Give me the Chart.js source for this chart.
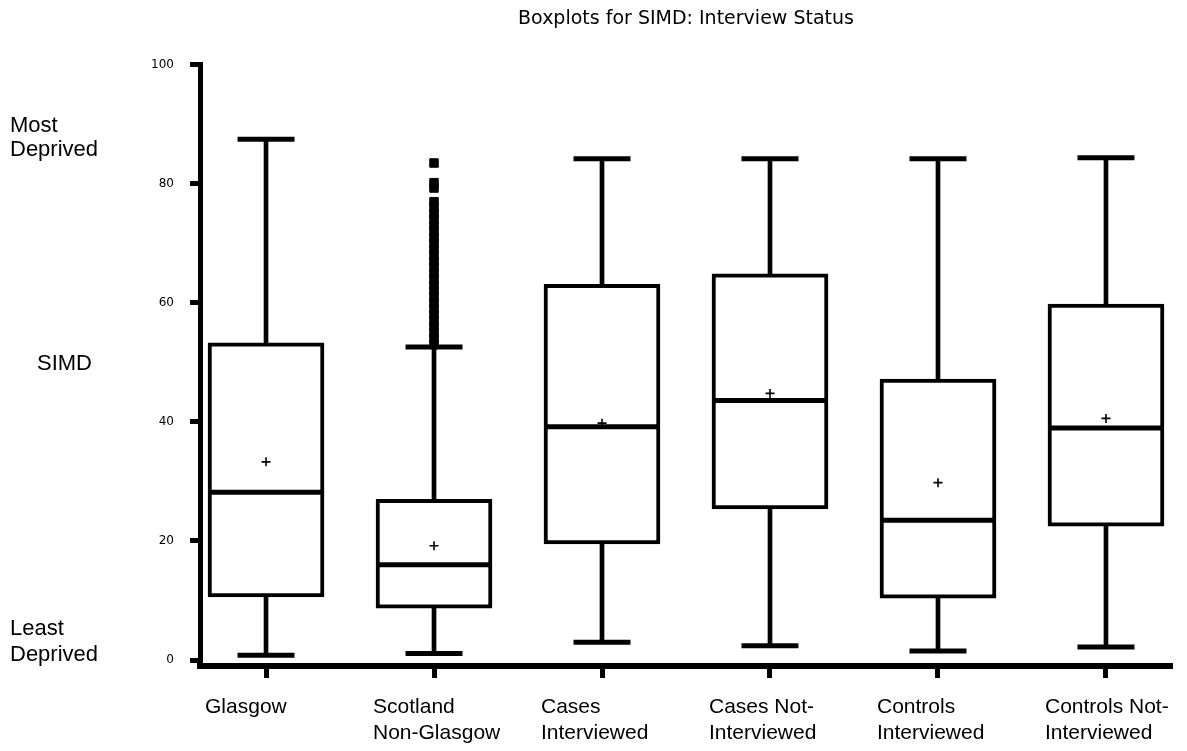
<!DOCTYPE html>
<html>
<head>
<meta charset="utf-8">
<title>Boxplots for SIMD: Interview Status</title>
<script src="https://cdn.jsdelivr.net/npm/chart.js@4.4.1/dist/chart.umd.min.js"></script>
<style>
  html, body { margin: 0; padding: 0; background: #fff; }
</style>
</head>
<body>
<canvas id="boxChart" width="1187" height="751"></canvas>
<script>
const categories = [
    ['Glasgow'],
    ['Scotland', 'Non-Glasgow'],
    ['Cases', 'Interviewed'],
    ['Cases Not-', 'Interviewed'],
    ['Controls', 'Interviewed'],
    ['Controls Not-', 'Interviewed']
];
const whiskerLow = [0.8, 1.1, 3.0, 2.4, 1.5, 2.2];
const q1 = [10.6, 8.7, 19.5, 25.4, 10.4, 22.5];
const medians = [28.2, 16.0, 39.2, 43.6, 23.5, 39.0];
const q3 = [53.3, 27.0, 63.1, 64.9, 47.2, 59.8];
const whiskerHigh = [87.5, 52.6, 84.2, 84.2, 84.2, 84.4];
const means = [33.3, 19.2, 39.8, 44.8, 29.8, 40.6];
// outliers only show up for Scotland Non-Glasgow (category 1)
const outlierCategory = 1;
const outliers = [53, 54, 55, 56, 57, 58, 59, 60, 61, 62, 63, 64, 65, 66, 67, 68, 69, 70,
    71, 72, 73, 74, 75, 76, 77, 79.3, 80.2, 83.5];
const yTicks = [0, 20, 40, 60, 80, 100];
const sideLabels = [
    { text: 'Most', x: 10, y: 126 },
    { text: 'Deprived', x: 10, y: 150 },
    { text: 'SIMD', x: 37, y: 364 },
    { text: 'Least', x: 10, y: 629 },
    { text: 'Deprived', x: 10, y: 655 }
];

// caps on the whiskers and the median line across each box
const boxExtras = {
    id: 'boxExtras',
    afterDatasetsDraw(chart) {
        const ctx = chart.ctx;
        const xs = chart.scales.x;
        const ys = chart.scales.y;
        ctx.save();
        ctx.strokeStyle = '#000';
        ctx.lineWidth = 5;
        categories.forEach((c, i) => {
            const cx = xs.getPixelForValue(i);
            [whiskerLow[i], whiskerHigh[i]].forEach(v => {
                const py = ys.getPixelForValue(v);
                ctx.beginPath();
                ctx.moveTo(cx - 28.5, py);
                ctx.lineTo(cx + 28.5, py);
                ctx.stroke();
            });
            const my = ys.getPixelForValue(medians[i]);
            ctx.beginPath();
            ctx.moveTo(cx - 58, my);
            ctx.lineTo(cx + 58, my);
            ctx.stroke();
        });
        ctx.restore();
    },
    afterDraw(chart) {
        const ctx = chart.ctx;
        ctx.save();
        ctx.fillStyle = '#000';
        ctx.font = '22px "Liberation Sans", Arial, sans-serif';
        ctx.textAlign = 'left';
        ctx.textBaseline = 'middle';
        sideLabels.forEach(l => ctx.fillText(l.text, l.x, l.y));
        ctx.restore();
    }
};

function drawChart() {
    const ctx = document.getElementById('boxChart').getContext('2d');
    new Chart(ctx, {
        type: 'bar',
        data: {
            datasets: [
                {
                    label: 'whiskers',
                    data: categories.map((c, i) => ({ x: i, y: [whiskerLow[i], whiskerHigh[i]] })),
                    backgroundColor: '#000',
                    barThickness: 4,
                    grouped: false,
                    order: 3
                },
                {
                    label: 'boxes',
                    data: categories.map((c, i) => ({ x: i, y: [q1[i], q3[i]] })),
                    backgroundColor: '#fff',
                    borderColor: '#000',
                    borderWidth: 4,
                    borderSkipped: false,
                    barThickness: 116,
                    grouped: false,
                    order: 2
                },
                {
                    type: 'scatter',
                    label: 'mean',
                    data: categories.map((c, i) => ({ x: i, y: means[i] })),
                    pointStyle: 'cross',
                    pointRadius: 4.5,
                    borderColor: '#000',
                    borderWidth: 1.6,
                    order: 1
                },
                {
                    type: 'scatter',
                    label: 'outliers',
                    data: outliers.map(v => ({ x: outlierCategory, y: v })),
                    pointStyle: 'rect',
                    pointRadius: 6,
                    backgroundColor: '#000',
                    borderColor: '#000',
                    borderWidth: 1,
                    order: 1
                }
            ]
        },
        options: {
            responsive: false,
            animation: false,
            layout: { padding: { left: 0, right: 15, top: 8, bottom: 0 } },
            scales: {
                x: {
                    type: 'linear',
                    min: -0.393,
                    max: 5.393,
                    offset: false,
                    afterBuildTicks: s => { s.ticks = categories.map((c, i) => ({ value: i })); },
                    afterFit: s => { s.height = 85; s.paddingLeft = 0; s.paddingRight = 0; },
                    grid: { offset: false, drawOnChartArea: false, tickLength: 12, tickWidth: 5, tickColor: '#000' },
                    border: { color: '#000', width: 6 },
                    ticks: {
                        callback: (v, i) => categories[i],
                        align: 'start',
                        labelOffset: -61,
                        padding: 17,
                        autoSkip: false,
                        maxRotation: 0,
                        color: '#000',
                        font: { family: '"Liberation Sans", Arial', size: 21 }
                    }
                },
                y: {
                    min: -1,
                    max: 100,
                    afterBuildTicks: s => { s.ticks = yTicks.map(v => ({ value: v })); },
                    afterFit: s => { s.width = 200; },
                    grid: { drawOnChartArea: false, tickLength: 10, tickWidth: 5, tickColor: '#000' },
                    border: { color: '#000', width: 5 },
                    ticks: {
                        padding: 16,
                        color: '#000',
                        font: { family: '"DejaVu Sans"', size: 12 }
                    }
                }
            },
            plugins: {
                legend: { display: false },
                tooltip: { enabled: false },
                title: {
                    display: true,
                    fullSize: false,
                    text: 'Boxplots for SIMD: Interview Status',
                    color: '#000',
                    font: { family: '"DejaVu Sans"', size: 19, weight: 'normal' },
                    padding: { top: 0, bottom: 34 }
                }
            }
        },
        plugins: [boxExtras]
    });
}

window.onload = drawChart;
</script>
</body>
</html>
